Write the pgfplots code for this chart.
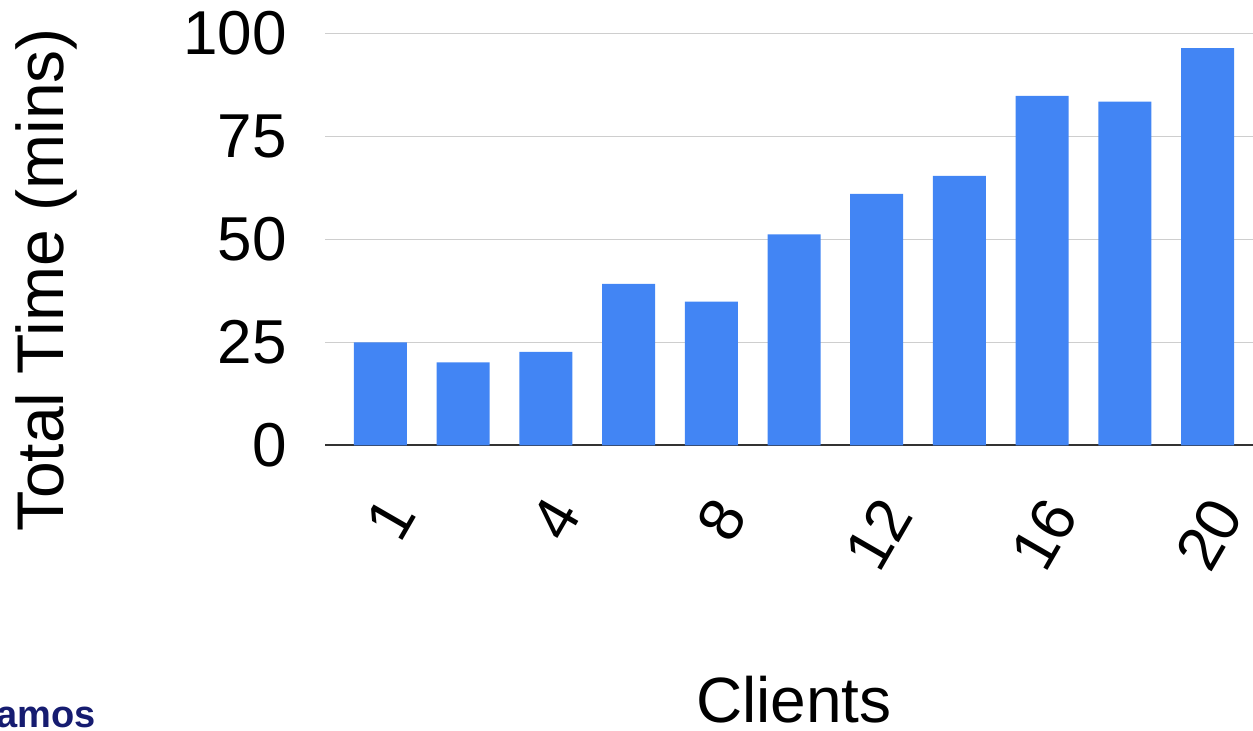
\documentclass[border=0pt]{standalone}
\usepackage{fontspec}
\setmainfont{Liberation Sans}
\usepackage{pgfplots}
\usepackage{pgfplotstable}
\pgfplotsset{compat=1.18}
\definecolor{barblue}{RGB}{66,133,244}
\definecolor{gridgray}{RGB}{206,206,206}
\definecolor{axisdark}{RGB}{51,51,51}
\definecolor{logonavy}{RGB}{22,28,112}
\pgfplotstableread{
idx clients time
0 1 25.0
1 2 20.1
2 4 22.7
3 6 39.2
4 8 34.9
5 10 51.2
6 12 61.0
7 14 65.4
8 16 84.8
9 18 83.4
10 20 96.4
}\datatable
\begin{document}
\begin{tikzpicture}
\useasboundingbox (0,0) rectangle (1253bp,731bp);
\begin{axis}[
  at={(325bp,285.7bp)}, anchor=south west,
  scale only axis,
  width=938bp, height=412bp,
  xmin=-0.67, xmax=10.67,
  ymin=0, ymax=100,
  ybar, bar width=53bp, bar shift=0pt,
  axis x line*=bottom,
  axis y line*=left,
  x axis line style={-, draw=axisdark, line width=2bp},
  y axis line style={draw=none},
  major tick length=0pt,
  xtick={0,2,4,6,8,10},
  xticklabels={1,4,8,12,16,20},
  ytick={0,25,50,75,100},
  yticklabels={0,25,50,75,100},
  ymajorgrids,
  grid style={draw=gridgray, line width=1.5bp},
  tick label style={font=\fontsize{62bp}{70bp}\selectfont, inner sep=0pt},
  yticklabel style={anchor=east, xshift=-38bp},
  xticklabel shift=48bp,
  xticklabel style={rotate=60, anchor=north east},
  /pgf/number format/assume math mode=true,
  xlabel={Clients},
  ylabel={Total Time (mins)},
  every axis x label/.style={at={(axis description cs:0.5,-0.674)}, anchor=base, font=\fontsize{64bp}{70bp}\selectfont, inner sep=0pt},
  every axis y label/.style={at={(axis description cs:-0.2793,0.4012)}, rotate=90, anchor=base, font=\fontsize{66bp}{72bp}\selectfont, inner sep=0pt},
  clip=false,
]
\addplot[fill=barblue, draw=none] table[x=idx, y=time] {\datatable};
\end{axis}
\node[anchor=base east, inner sep=0pt, text=logonavy, font=\fontsize{38bp}{40bp}\selectfont\bfseries] at (96bp,4bp) {Los Alamos};
\end{tikzpicture}
\end{document}
